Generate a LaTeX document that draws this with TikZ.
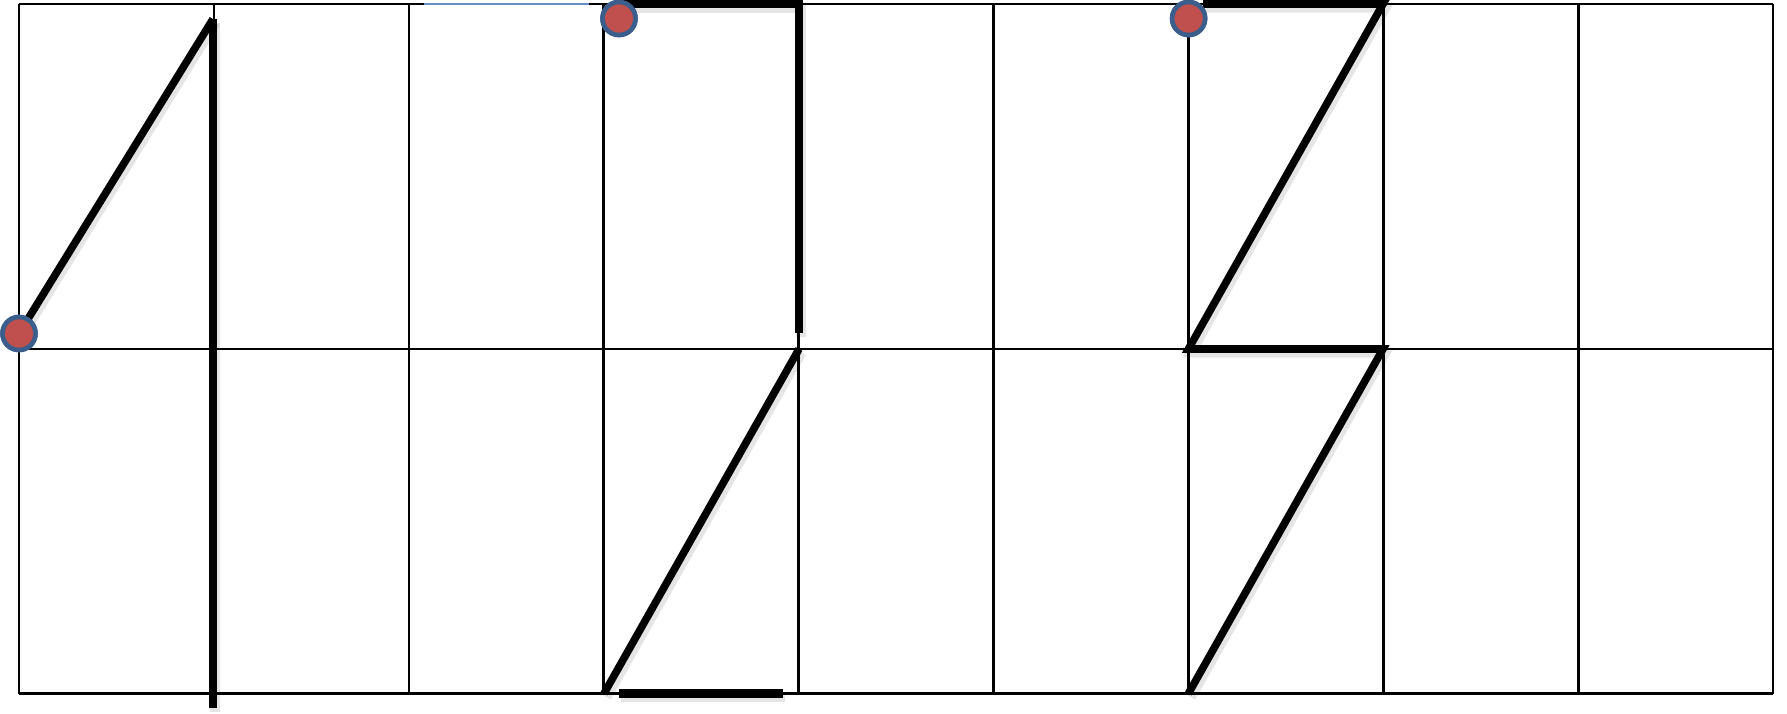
\documentclass[tikz,border=0pt]{standalone}
\begin{document}
\begin{tikzpicture}[x=0.5pt,y=-0.5pt,
  gridline/.style={line width=1.3pt,black},
  stroke/.style={line width=3.8pt,black},
  shadowline/.style={line width=5pt,black,draw opacity=0.1,transform canvas={shift={(1.2pt,-1.8pt)}}},
  dot/.style={circle,fill={rgb,255:red,192;green,80;blue,77},draw={rgb,255:red,59;green,94;blue,140},line width=2.3pt,minimum size=16.5pt,inner sep=0pt},
  bluetop/.style={line width=1.1pt,color={rgb,255:red,100;green,140;blue,200}}]
\useasboundingbox (0,0) rectangle (1787,713);
% grid
\foreach \i in {0,...,9}{
  \draw[gridline] ({19+194.9*\i},4) -- ({19+194.9*\i},693.5);
}
\draw[gridline] (19,4) -- (1773.1,4);
\draw[gridline] (19,349) -- (1773.1,349);
\draw[gridline] (19,693.5) -- (1773.1,693.5);
\draw[bluetop] (424,4) -- (589,4);
% coordinates
\coordinate (a1) at (213,19);
\coordinate (a2) at (213,708);
\coordinate (b1) at (799,4);
\coordinate (b2) at (799,333);
\coordinate (b3) at (799,349);
\coordinate (b4) at (604,693.5);
\coordinate (b5) at (619,693.5);
\coordinate (b6) at (783,693.5);
\coordinate (bs) at (619,4);
\coordinate (c1) at (1383,4);
\coordinate (c2) at (1188.4,349);
\coordinate (c3) at (1383,349);
\coordinate (c4) at (1188.4,693.5);
\coordinate (cs) at (1203,4);
% shadows
\draw[shadowline] (19,333) -- (a1);
\draw[shadowline] (a1) -- (a2);
\draw[shadowline] (bs) -- (b1) -- (b2);
\draw[shadowline] (b3) -- (b4);
\draw[shadowline] (b5) -- (b6);
\draw[shadowline] (cs) -- (c1) -- (c2) -- (c3) -- (c4);
% strokes
\node[dot] (p1) at (19,333.5) {};
\node[dot] (p2) at (619,18.5) {};
\node[dot] (p3) at (1188.6,18.5) {};
\draw[stroke] (p1.center) -- (a1);
\draw[stroke,line width=4.2pt] (a1) -- (a2);
\draw[stroke,line cap=butt] (bs) -- (b1) -- (b2);
\draw[stroke] (b3) -- (b4);
\draw[stroke,line width=4.2pt] (b5) -- (b6);
\draw[stroke,line join=miter] (cs) -- (c1) -- (c2) -- (c3) -- (c4);
% redraw dots on top
\node[dot] at (p1) {};
\node[dot] at (p2) {};
\node[dot] at (p3) {};
\end{tikzpicture}
\end{document}
